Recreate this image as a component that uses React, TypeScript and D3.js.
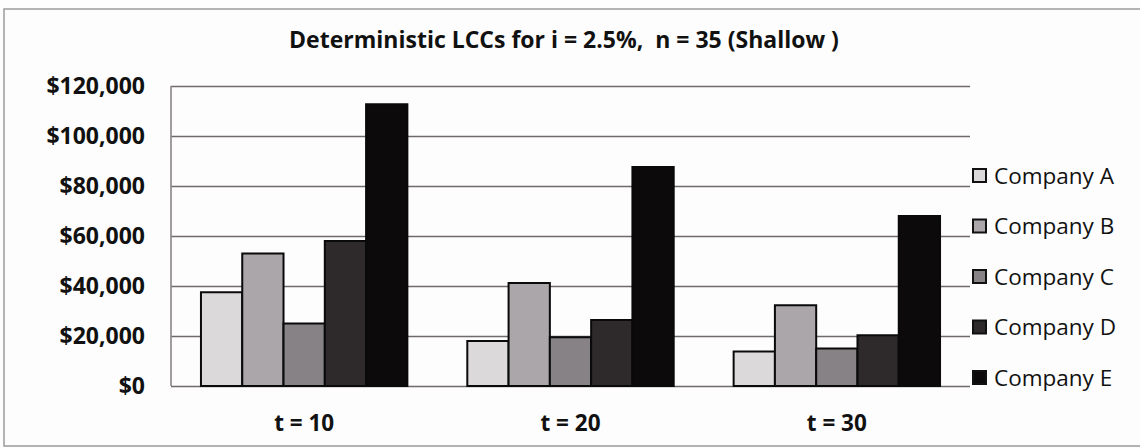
import React, { useEffect, useRef } from "react";
import { axisLeft, scaleBand, scaleLinear, select } from "d3";

const WIDTH = 1140;
const HEIGHT = 448;
const PLOT_LEFT = 171;
const PLOT_RIGHT = 970;
const PLOT_TOP = 86;
const PLOT_BOTTOM = 386;
const FONT = "'Open Sans', 'DejaVu Sans', sans-serif";

const groups = ["t = 10", "t = 20", "t = 30"];
const companies = ["Company A", "Company B", "Company C", "Company D", "Company E"];
const companyA = [37500, 18000, 13800];
const companyB = [53000, 41200, 32300];
const companyC = [25000, 19500, 15000];
const companyD = [58000, 26400, 20300];
const companyE = [112700, 87600, 68000];
const yTicks = [0, 20000, 40000, 60000, 80000, 100000, 120000];
const colors = ["#dcd9db", "#aaa6a9", "#878285", "#2e2a2c", "#0c0a0b"];

const series = [companyA, companyB, companyC, companyD, companyE];

export default function App() {
    const svgRef = useRef<SVGSVGElement>(null);

    useEffect(() => {
        const svg = select(svgRef.current);
        svg.selectAll("*").remove();

        const x0 = scaleBand<string>()
            .domain(groups)
            .range([PLOT_LEFT, PLOT_RIGHT])
            .paddingInner(0.225)
            .paddingOuter(0.1125);
        const x1 = scaleBand<string>().domain(companies).range([0, x0.bandwidth()]);
        const y = scaleLinear().domain([0, 120000]).range([PLOT_BOTTOM, PLOT_TOP]);

        svg.append("rect")
            .attr("width", WIDTH)
            .attr("height", HEIGHT)
            .attr("fill", "#fdfdfd");

        // outer frame
        svg.append("rect")
            .attr("x", 4)
            .attr("y", 9)
            .attr("width", 1200)
            .attr("height", 437)
            .attr("fill", "none")
            .attr("stroke", "#9a9a9a")
            .attr("stroke-width", 1.5);

        svg.append("text")
            .attr("x", 564)
            .attr("y", 48)
            .attr("text-anchor", "middle")
            .attr("font-family", FONT)
            .attr("font-weight", "bold")
            .attr("font-size", 23)
            .attr("fill", "#111")
            .text("Deterministic LCCs for i = 2.5%,  n = 35 (Shallow )")
            .style("white-space", "pre");

        // y axis with gridlines
        const yAxis = axisLeft(y)
            .tickValues(yTicks)
            .tickSize(-(PLOT_RIGHT - PLOT_LEFT))
            .tickPadding(26)
            .tickFormat(d => "$" + (d as number).toLocaleString("en-US"));
        const yg = svg.append("g").attr("transform", `translate(${PLOT_LEFT},0)`).call(yAxis);
        yg.select(".domain").remove();
        yg.selectAll("line").attr("stroke", "#6f6a6d").attr("stroke-width", 1.6);
        yg.selectAll("text")
            .attr("font-family", FONT)
            .attr("font-weight", "bold")
            .attr("font-size", 23)
            .attr("fill", "#111");

        svg.append("line")
            .attr("x1", PLOT_LEFT)
            .attr("x2", PLOT_LEFT)
            .attr("y1", PLOT_TOP)
            .attr("y2", PLOT_BOTTOM)
            .attr("stroke", "#8a8588")
            .attr("stroke-width", 1.6);

        // bars
        const g = svg.selectAll(".grp")
            .data(groups)
            .enter()
            .append("g")
            .attr("transform", d => `translate(${x0(d)},0)`);
        g.selectAll("rect")
            .data((_, gi) => series.map((s, si) => ({ name: companies[si], value: s[gi], color: colors[si] })))
            .enter()
            .append("rect")
            .attr("x", d => x1(d.name)!)
            .attr("y", d => y(d.value))
            .attr("width", x1.bandwidth())
            .attr("height", d => PLOT_BOTTOM - y(d.value))
            .attr("fill", d => d.color)
            .attr("stroke", "#0a0a0a")
            .attr("stroke-width", 2);

        // x labels
        svg.selectAll(".xl")
            .data(groups)
            .enter()
            .append("text")
            .attr("x", d => x0(d)! + x0.bandwidth() / 2)
            .attr("y", 431)
            .attr("text-anchor", "middle")
            .attr("font-family", FONT)
            .attr("font-weight", "bold")
            .attr("font-size", 22.5)
            .attr("fill", "#111")
            .text(d => d);

        // legend
        const legend = svg.selectAll(".lg")
            .data(companies)
            .enter()
            .append("g")
            .attr("transform", (_, i) => `translate(972,${176 + i * 50.5})`);
        legend.append("rect")
            .attr("x", 1)
            .attr("y", -7)
            .attr("width", 13)
            .attr("height", 13)
            .attr("fill", (_, i) => colors[i])
            .attr("stroke", "#111")
            .attr("stroke-width", 2);
        legend.append("text")
            .attr("x", 22)
            .attr("y", 0)
            .attr("dy", "0.35em")
            .attr("font-family", FONT)
            .attr("font-size", 22.5)
            .attr("fill", "#111")
            .text(d => d);
    }, []);

    return (
        <svg
            ref={svgRef}
            width={WIDTH}
            height={HEIGHT}
            style={{ position: "absolute", left: 0, top: 0 }}
        />
    );
}
